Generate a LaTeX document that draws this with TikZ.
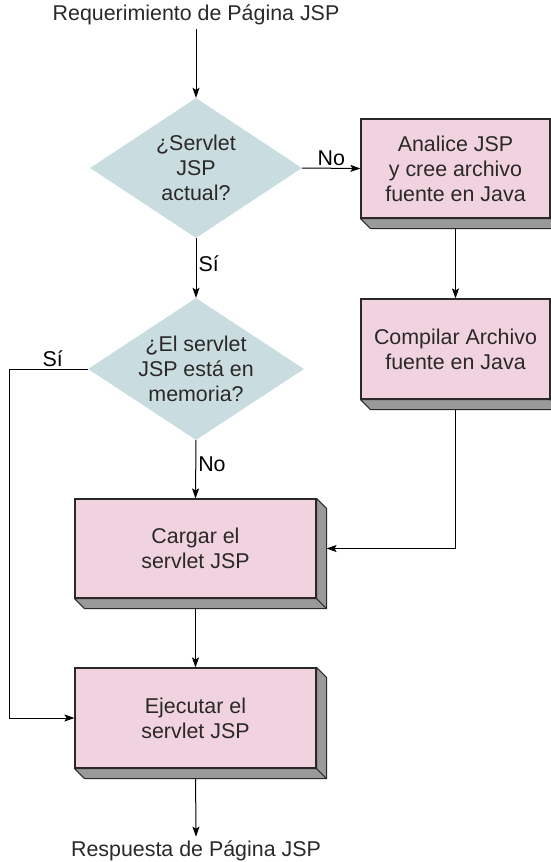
\documentclass[tikz,border=0pt]{standalone}
\usepackage{fontspec}
\setmainfont{Liberation Sans}
\usepackage{tikz}
\usetikzlibrary{arrows.meta, calc, shapes.geometric, positioning, backgrounds}

\definecolor{boxpink}{HTML}{F0D3DF}
\definecolor{diablue}{HTML}{C9DDE0}
\definecolor{shadegray}{HTML}{9A9A9A}
\definecolor{inkgray}{HTML}{2B2829}

\tikzset{
  txt/.style={font=\fontsize{21.4}{25}\selectfont, text=inkgray, align=center, inner sep=0pt},
  decision/.style={diamond, fill=diablue, inner sep=0pt, minimum width=#1},
  procbox/.style={rectangle, fill=boxpink, draw=inkgray, line width=1.1pt, align=center,
    font=\fontsize{21.4}{25}\selectfont, text=inkgray, minimum width=#1},
  shade/.style={fill=shadegray, draw=inkgray, line width=1pt, line join=round},
  arr/.style={draw=black, line width=1pt, -{Stealth[length=10pt, width=7pt, inset=2pt]}},
  lbl/.style={font=\fontsize{21.4}{25}\selectfont, text=black, inner sep=2pt}
}

\begin{document}
\begin{tikzpicture}[x=1pt, y=-1pt]
  \useasboundingbox (0,0) rectangle (551,862);

  \node[txt] (req) at (196,15) {Requerimiento de P\'agina JSP};

  \node[decision=212pt, minimum height=140pt] (d1) at (196,168) {};
  \node[txt] (d1txt) at (d1.center) {¿Servlet\\JSP\\actual?};

  \node[decision=216pt, minimum height=142pt] (d2) at (196,369) {};
  \node[txt] (d2txt) at (d2.center) {¿El servlet\\JSP est\'a en\\memoria?};

  \node[procbox=189pt, minimum height=99pt] (anl) at (455.5,168.5) {Analice JSP\\y cree archivo\\fuente en Java};
  \node[procbox=189pt, minimum height=100pt] (cmp) at (455.5,349) {Compilar Archivo\\fuente en Java};
  \node[procbox=241pt, minimum height=99pt] (crg) at (195.5,548.5) {Cargar el\\servlet JSP};
  \node[procbox=241pt, minimum height=100pt] (ejc) at (195.5,718) {Ejecutar el\\servlet JSP};

  \node[txt] (resp) at (196,851) {Respuesta de P\'agina JSP};

  % 3d edges of the boxes
  \foreach \n in {anl, cmp, crg, ejc} {
    \filldraw[shade] (\n.south west) -- ++(10,10) -- ($(\n.south east)+(10,10)$) -- (\n.south east) -- cycle;
    \filldraw[shade] (\n.north east) -- ++(10,10) -- ($(\n.south east)+(10,10)$) -- (\n.south east) -- cycle;
  }

  \begin{scope}[on background layer]
    \draw[arr] (req.south) ++(0,4) -- (d1.north);
    \draw[arr] (d1.east) -- node[lbl, above] {No} (anl.west);
    \draw[arr] (anl.south) -- (cmp.north);
    \draw[arr] (d1.south) -- node[lbl, right, pos=0.42] {S\'i} (d2.north);
    \draw[arr] (d2.south) -- node[lbl, right, pos=0.42] {No} (crg.north);
    \draw[arr] (cmp.south) |- ($(crg.east)+(10,0)$);
    \draw[arr] (d2.west) -- node[lbl, above, pos=0.45] {S\'i} ++(-78,0) |- (ejc.west);
    \draw[arr] (crg.south) -- (ejc.north);
    \draw[arr] (ejc.south) -- ($(resp.north)+(0,-4)$);
  \end{scope}
\end{tikzpicture}
\end{document}
